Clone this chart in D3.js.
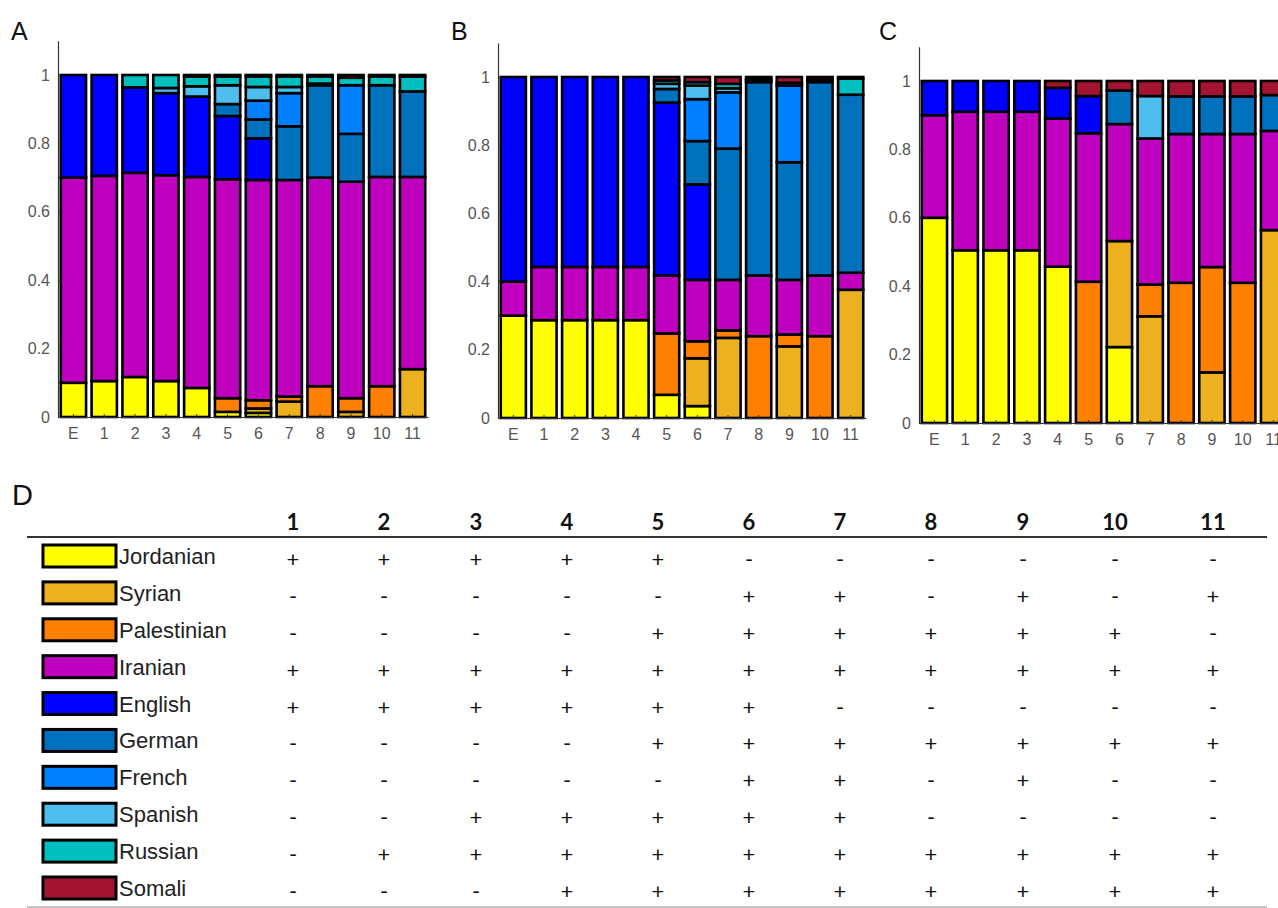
<!DOCTYPE html>
<html>
<head>
<meta charset="utf-8">
<script src="https://cdn.jsdelivr.net/npm/d3@7"></script>
<style>
  body { margin: 0; background: #fff; }
  svg { display: block; }
</style>
</head>
<body>
<div id="chart"></div>
<script>
// stack order, bottom to top
const languages = ["Jordanian", "Syrian", "Palestinian", "Iranian", "English", "German", "French", "Spanish", "Russian", "Somali"];
const colors = ["#ffff00", "#edb120", "#ff8000", "#bf00bf", "#0000ff", "#0072bd", "#0080ff", "#4dbeee", "#00bfbf", "#a2142f"];
const barLabels = ["E", "1", "2", "3", "4", "5", "6", "7", "8", "9", "10", "11"];
const yTicks = [0, 0.2, 0.4, 0.6, 0.8, 1];

// shares per bar, same order as languages
const panelA = [
    [.10, 0, 0, .60, .30, 0, 0, 0, 0, 0],
    [.105, 0, 0, .60, .295, 0, 0, 0, 0, 0],
    [.117, 0, 0, .597, .25, 0, 0, 0, .036, 0],
    [.105, 0, 0, .602, .24, 0, 0, .015, .038, 0],
    [.085, 0, 0, .617, .235, 0, 0, .03, .029, .004],
    [.015, 0, .04, .64, .185, .035, 0, .055, .026, .004],
    [.012, .013, .024, .644, .122, .055, .055, .04, .031, .004],
    [0, .045, .015, .633, 0, .157, .097, .018, .031, .004],
    [0, 0, .09, .61, 0, .27, 0, .005, .021, .004],
    [0, .015, .04, .633, 0, .14, .142, 0, .022, .008],
    [0, 0, .09, .612, 0, .268, 0, 0, .026, .004],
    [0, .14, 0, .562, 0, .25, 0, 0, .044, .004]
];
const panelB = [
    [.30, 0, 0, .10, .60, 0, 0, 0, 0, 0],
    [.287, 0, 0, .156, .557, 0, 0, 0, 0, 0],
    [.287, 0, 0, .156, .557, 0, 0, 0, 0, 0],
    [.287, 0, 0, .156, .557, 0, 0, 0, 0, 0],
    [.287, 0, 0, .156, .557, 0, 0, 0, 0, 0],
    [.068, 0, .18, .17, .507, .04, 0, .015, .01, .01],
    [.035, .14, .05, .18, .28, .127, .123, .04, .01, .015],
    [0, .235, .022, .148, 0, .385, .165, .012, .013, .02],
    [0, 0, .24, .178, 0, .567, 0, .005, .005, .005],
    [0, .21, .035, .16, 0, .345, .225, 0, .008, .017],
    [0, 0, .24, .178, 0, .567, 0, 0, .007, .008],
    [0, .376, 0, .05, 0, .522, 0, 0, .047, .005]
];
const panelC = [
    [.60, 0, 0, .30, .10, 0, 0, 0, 0, 0],
    [.505, 0, 0, .405, .09, 0, 0, 0, 0, 0],
    [.505, 0, 0, .405, .09, 0, 0, 0, 0, 0],
    [.505, 0, 0, .405, .09, 0, 0, 0, 0, 0],
    [.457, 0, 0, .433, .09, 0, 0, 0, 0, .02],
    [0, 0, .413, .434, .109, 0, 0, 0, 0, .044],
    [.222, .31, 0, .342, 0, .098, 0, 0, 0, .028],
    [0, .312, .093, .427, 0, 0, 0, .124, 0, .044],
    [0, 0, .41, .435, 0, .11, 0, 0, 0, .045],
    [0, .148, .308, .389, 0, .11, 0, 0, 0, .045],
    [0, 0, .41, .435, 0, .11, 0, 0, 0, .045],
    [0, .564, 0, .29, 0, .105, 0, 0, 0, .041]
];

// table D: which languages each set contains
const setLabels = ["1", "2", "3", "4", "5", "6", "7", "8", "9", "10", "11"];
const presence = [
    "+++++------",
    "-----++-+-+",
    "----++++++-",
    "+++++++++++",
    "++++++-----",
    "----+++++++",
    "-----++-+--",
    "--+++++----",
    "-++++++++++",
    "---++++++++"
];

const W = 1278, H = 908;
const svg = d3.select("#chart").append("svg")
    .attr("width", W)
    .attr("height", H)
    .style("font-family", "Arial, 'Liberation Sans', sans-serif");

function drawPanel(letter, data, x0, x1, y0, y1, letterX) {
    const xScale = d3.scaleBand().domain(barLabels).range([x0, x1])
        .paddingInner(0.18).paddingOuter(0.09);
    const yScale = d3.scaleLinear().domain([0, 1]).range([y0, y1]);

    const rows = data.map((v, i) => {
        let obj = { label: barLabels[i] };
        languages.forEach((l, j) => obj[l] = v[j]);
        return obj;
    });
    const series = d3.stack().keys(languages)(rows);

    const g = svg.append("g");

    g.selectAll(".layer")
        .data(series)
        .join("g")
        .attr("fill", (d, i) => colors[i])
        .selectAll("rect")
        .data(d => d)
        .join("rect")
        .attr("x", d => xScale(d.data.label))
        .attr("width", xScale.bandwidth())
        .attr("y", d => yScale(d[1]))
        .attr("height", d => yScale(d[0]) - yScale(d[1]))
        .attr("stroke", "#000")
        .attr("stroke-width", 2.6);

    const xAxis = g.append("g")
        .attr("transform", `translate(0,${y0})`)
        .call(d3.axisBottom(xScale).tickSizeInner(-3).tickSizeOuter(0).tickPadding(11));
    const yAxis = g.append("g")
        .attr("transform", `translate(${x0},0)`)
        .call(d3.axisLeft(yScale.copy().domain([0, 1.1]).range([y0, yScale(1.1)]))
            .tickValues(yTicks).tickFormat(d3.format("~g"))
            .tickSizeInner(-3).tickSizeOuter(0).tickPadding(8));

    [xAxis, yAxis].forEach(a => {
        a.select(".domain").attr("stroke", "#333").attr("stroke-width", 1.2);
        a.selectAll(".tick line").attr("stroke", "#333");
        a.selectAll("text")
            .style("font-size", "16px")
            .style("font-family", "Arial, 'Liberation Sans', sans-serif")
            .attr("fill", "#555");
    });

    svg.append("text")
        .attr("x", letterX)
        .attr("y", 40)
        .style("font-size", "25px")
        .attr("fill", "#111")
        .text(letter);
}

drawPanel("A", panelA, 58, 428, 417, 75, 11);
drawPanel("B", panelB, 498, 866, 418, 77, 451);
drawPanel("C", panelC, 919, 1289, 423, 81, 879);

// ---- table D ----
const colX = d3.scaleOrdinal()
    .domain(setLabels)
    .range([293, 384, 476, 567, 658, 749, 840, 931, 1023, 1115, 1213]);
const rowY = d3.scalePoint().domain(languages).range([556, 888]);

svg.append("text")
    .attr("x", 12)
    .attr("y", 505)
    .style("font-size", "29px")
    .attr("fill", "#111")
    .text("D");

svg.selectAll(".head")
    .data(setLabels)
    .join("text")
    .attr("class", "head")
    .attr("x", d => colX(d))
    .attr("y", 530)
    .attr("text-anchor", "middle")
    .style("font-family", "Lato, 'Open Sans', sans-serif")
    .style("font-weight", "bold")
    .style("font-size", "22px")
    .attr("fill", "#111")
    .text(d => d);

svg.append("line")
    .attr("x1", 27).attr("x2", 1267)
    .attr("y1", 537).attr("y2", 537)
    .attr("stroke", "#333")
    .attr("stroke-width", 2);

svg.append("line")
    .attr("x1", 27).attr("x2", 1267)
    .attr("y1", 907).attr("y2", 907)
    .attr("stroke", "#888")
    .attr("stroke-width", 1);

const legendRow = svg.selectAll(".lrow")
    .data(languages)
    .join("g")
    .attr("class", "lrow")
    .attr("transform", d => `translate(0,${rowY(d)})`);

legendRow.append("rect")
    .attr("x", 43)
    .attr("y", -11)
    .attr("width", 73)
    .attr("height", 22)
    .attr("fill", (d, i) => colors[i])
    .attr("stroke", "#000")
    .attr("stroke-width", 3);

legendRow.append("text")
    .attr("x", 119)
    .attr("y", 8)
    .style("font-size", "22px")
    .attr("fill", "#222")
    .text(d => d);

legendRow.each(function(d, i) {
    d3.select(this).selectAll(".mark")
        .data(presence[i].split(""))
        .join("text")
        .attr("class", "mark")
        .attr("x", (m, j) => colX(setLabels[j]))
        .attr("y", 11)
        .attr("text-anchor", "middle")
        .style("font-family", "Lato, 'Open Sans', sans-serif")
        .style("font-size", "22px")
        .attr("fill", "#111")
        .text(m => m);
});
</script>
</body>
</html>
